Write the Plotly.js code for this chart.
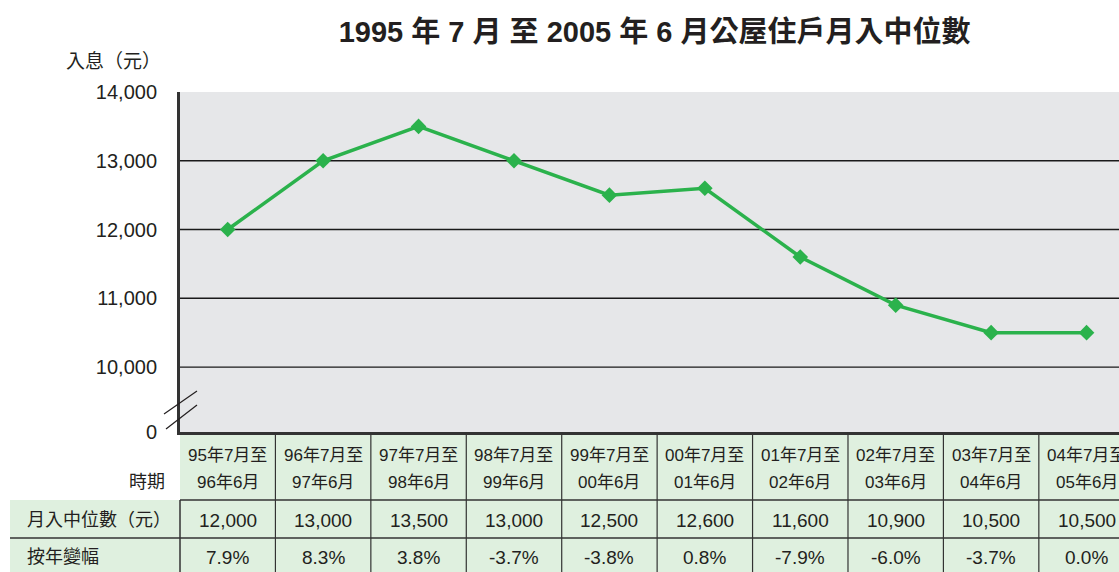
<!DOCTYPE html>
<html>
<head>
<meta charset="utf-8">
<script src="https://cdn.plot.ly/plotly-3.0.1.min.js"></script>
<style>html,body{margin:0;padding:0;background:#fff;}#chart{width:1119px;height:572px;}</style>
</head>
<body>
<div id="chart"></div>
<script>
// ---- data ----
const periodsTop = ["95年7月至","96年7月至","97年7月至","98年7月至","99年7月至","00年7月至","01年7月至","02年7月至","03年7月至","04年7月至"];
const periodsBottom = ["96年6月","97年6月","98年6月","99年6月","00年6月","01年6月","02年6月","03年6月","04年6月","05年6月"];
const medianIncome = [12000,13000,13500,13000,12500,12600,11600,10900,10500,10500];
const yoyChange = ["7.9%","8.3%","3.8%","-3.7%","-3.8%","0.8%","-7.9%","-6.0%","-3.7%","0.0%"];
const yTickVals = [9055,10000,11000,12000,13000,14000];
const yTickText = ["0","10,000","11,000","12,000","13,000","14,000"];
const gridVals = [10000,11000,12000,13000];
const rowLabels = ["時期","月入中位數（元）","按年變幅"];
const titleText = "1995 年 7 月 至 2005 年 6 月公屋住戶月入中位數";
const yTitleText = "入息（元）";

// ---- styles ----
const FONT = "Liberation Sans, Arial, 'Noto Sans CJK TC', sans-serif";
const GREEN = "#2bb24c";
const CELL = "#dff0df";
const INK = "#231f20";
const idx = medianIncome.map((_, i) => i);

// plot area: x 180..1119, y 92..432 (340 px)
const py = p => (432 - p) / 340;      // pixel y -> paper y
const px = p => (p - 180) / 939;      // pixel x -> paper x

const shapes = [];
const annotations = [];

// table backgrounds
shapes.push({type:"rect", xref:"paper", yref:"paper", x0:0, x1:1.01, y0:py(500), y1:0, fillcolor:CELL, line:{width:0}, layer:"below"});
shapes.push({type:"rect", xref:"paper", yref:"paper", x0:px(10), x1:1.01, y0:py(580), y1:py(500), fillcolor:CELL, line:{width:0}, layer:"below"});
// horizontal row lines
shapes.push({type:"line", xref:"paper", yref:"paper", x0:0, x1:1.01, y0:py(500), y1:py(500), line:{color:"#333", width:1.5}});
shapes.push({type:"line", xref:"paper", yref:"paper", x0:px(10), x1:1.01, y0:py(538), y1:py(538), line:{color:"#333", width:1.5}});
// left border of first column (rows 2-3)
shapes.push({type:"line", xref:"paper", yref:"paper", x0:0, x1:0, y0:py(580), y1:py(500), line:{color:"#333", width:1.5}});
// column separators
idx.slice(0, -1).forEach(i => {
  shapes.push({type:"line", xref:"x", yref:"paper", x0:i+0.5, x1:i+0.5, y0:py(580), y1:0, line:{color:"#333", width:1.2}});
});
// gridlines
gridVals.forEach(v => {
  shapes.push({type:"line", xref:"paper", yref:"y", x0:0, x1:1, y0:v, y1:v, line:{color:"#1a1a1a", width:1.3}, layer:"below"});
});
// axis break marks
shapes.push({type:"line", xref:"paper", yref:"y", xsizemode:"pixel", ysizemode:"pixel", xanchor:0, yanchor:yTickVals[0], x0:-16, x1:17, y0:18, y1:41, line:{color:INK, width:1.2}});
shapes.push({type:"line", xref:"paper", yref:"y", xsizemode:"pixel", ysizemode:"pixel", xanchor:0, yanchor:yTickVals[0], x0:-14, x1:17, y0:3, y1:27, line:{color:INK, width:1.2}});

const ann = (o) => Object.assign({showarrow:false, yanchor:"middle"}, o);

// table text
idx.forEach(i => {
  annotations.push(ann({xref:"x", yref:"paper", x:i, y:py(455), text:periodsTop[i], font:{family:FONT, size:17, color:INK}}));
  annotations.push(ann({xref:"x", yref:"paper", x:i, y:py(482), text:periodsBottom[i], font:{family:FONT, size:17, color:INK}}));
  annotations.push(ann({xref:"x", yref:"paper", x:i, y:py(520), text:medianIncome[i].toLocaleString("en-US"), font:{family:FONT, size:19, color:INK}}));
  annotations.push(ann({xref:"x", yref:"paper", x:i, y:py(557), text:yoyChange[i], font:{family:FONT, size:19, color:INK}}));
});
annotations.push(ann({xref:"paper", yref:"paper", x:px(167), y:py(482), xanchor:"right", text:rowLabels[0], font:{family:FONT, size:18, color:INK}}));
annotations.push(ann({xref:"paper", yref:"paper", x:px(25), y:py(520), xanchor:"left", text:rowLabels[1], font:{family:FONT, size:18, color:INK}}));
annotations.push(ann({xref:"paper", yref:"paper", x:px(25), y:py(557), xanchor:"left", text:rowLabels[2], font:{family:FONT, size:18, color:INK}}));
// y axis title
annotations.push(ann({xref:"paper", yref:"paper", x:px(163), y:py(61), xanchor:"right", text:yTitleText, font:{family:FONT, size:19, color:INK}}));

const trace = {
  x: idx, y: medianIncome, type:"scatter", mode:"lines+markers",
  line:{color:GREEN, width:3.5},
  marker:{symbol:"diamond", size:12, color:GREEN},
  hoverinfo:"skip", cliponaxis:false
};

const layout = {
  width:1119, height:572,
  margin:{l:180, r:0, t:92, b:140, pad:0},
  paper_bgcolor:"#ffffff",
  plot_bgcolor:"#e6e7e9",
  showlegend:false,
  title:{text:titleText, x:0.585, xanchor:"center", y:0.945, yanchor:"middle", font:{family:FONT, size:29, color:INK, weight:"bold"}},
  xaxis:{range:[-0.5, 9.34], showgrid:false, zeroline:false, showticklabels:false, ticks:"", showline:true, linecolor:"#333", linewidth:3, fixedrange:true},
  yaxis:{range:[yTickVals[0], 14000], tickvals:yTickVals, ticktext:yTickText, showgrid:false, zeroline:false,
         showline:true, linecolor:"#333", linewidth:3, ticks:"outside", ticklen:16, tickcolor:"rgba(0,0,0,0)",
         tickfont:{family:FONT, size:20, color:INK}, fixedrange:true},
  shapes:shapes,
  annotations:annotations
};

Plotly.newPlot("chart", [trace], layout, {displayModeBar:false, staticPlot:true});
</script>
</body>
</html>
